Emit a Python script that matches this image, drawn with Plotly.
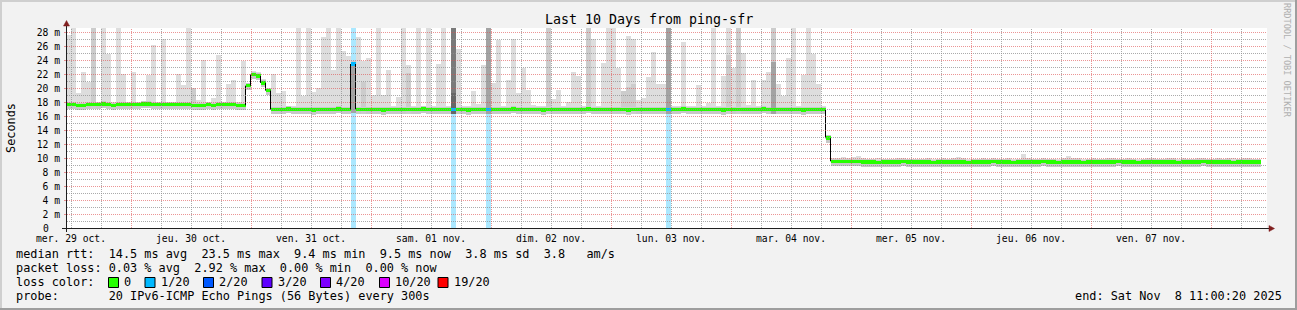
import plotly.graph_objects as go

# ---------------- data (hourly bins, bin k covers hour k .. k+1 of the 10 days) ----------------
MEDIAN_MS = [
    17.7, 17.7, 17.6, 17.6, 17.7, 17.7, 17.7, 17.8, 17.7, 17.6,
    17.7, 17.7, 17.7, 17.7, 17.7, 17.8, 17.8, 17.7, 17.7, 17.7,
    17.7, 17.7, 17.7, 17.7, 17.7, 17.6, 17.6, 17.6, 17.7, 17.6,
    17.7, 17.7, 17.7, 17.7, 17.6, 17.6,
    20.4, 22.0, 21.8, 20.8, 19.7,
    17.0, 17.0, 17.0, 17.1, 17.0, 17.0, 17.0, 17.0, 16.9, 17.0,
    17.0, 17.0, 17.0, 17.1, 17.0, 17.0,
    23.5,
    17.0, 17.0, 17.0, 17.0, 17.0, 16.9, 17.0, 17.0, 17.0, 17.0,
    17.0, 17.0, 17.0, 17.1, 17.0, 17.0, 17.0, 17.0, 17.0, 17.0,
    17.0, 17.0, 16.9, 17.0, 17.0, 17.0, 17.0, 17.0, 17.0, 17.0,
    17.0, 17.1, 17.0, 17.0, 17.0, 17.0, 17.0, 16.9, 17.0, 17.0,
    17.0, 17.0, 17.0, 17.0, 17.0, 17.0, 17.1, 17.0, 17.0, 17.0,
    17.0, 17.0, 17.0, 17.0, 16.9, 17.0, 17.0, 17.0, 17.0, 17.0,
    17.0, 17.0, 17.0, 17.0, 17.0, 17.1, 17.0, 17.0, 17.0, 17.0,
    17.0, 17.0, 17.0, 16.9, 17.0, 17.0, 17.0, 17.0, 17.0, 17.0,
    17.0, 17.1, 17.0, 17.0, 17.0, 17.0, 17.0, 17.0, 17.0, 16.9,
    17.0, 17.0, 17.0, 17.0,
    12.9,
    9.6, 9.6, 9.6, 9.6, 9.6, 9.6,
    9.5, 9.5, 9.5, 9.4, 9.5, 9.5, 9.5, 9.5, 9.6, 9.5, 9.5, 9.5,
    9.5, 9.5, 9.4, 9.5, 9.5, 9.5, 9.5, 9.5, 9.5, 9.4,
    9.5, 9.5, 9.5, 9.5, 9.6, 9.5, 9.5, 9.5, 9.4, 9.5,
    9.5, 9.5, 9.5, 9.5, 9.6, 9.5, 9.5, 9.4, 9.5, 9.5,
    9.5, 9.5, 9.4, 9.5, 9.5, 9.5, 9.5, 9.5, 9.5, 9.6,
    9.5, 9.5, 9.5, 9.4, 9.5, 9.5, 9.5, 9.5, 9.5, 9.5,
    9.5, 9.4, 9.5, 9.5, 9.5, 9.5, 9.6, 9.5, 9.5, 9.5,
    9.5, 9.5, 9.4, 9.5, 9.5, 9.5, 9.5, 9.5,
]

SMOKE_TOP_MS = [
    27.7, 28.7, 19.4, 22.4, 20.9, 28.7, 18.1, 28.7, 25.0, 18.1,
    28.7, 22.1, 18.1, 22.3, 18.1, 18.1, 21.9, 26.2, 18.1, 27.1,
    18.1, 18.1, 22.1, 20.5, 28.7, 20.1, 18.4, 24.1, 18.1, 18.6,
    24.8, 18.1, 20.7, 21.2, 18.1, 24.0,
    20.8, 22.5, 22.3, 21.4, 20.0,
    22.1, 19.4, 19.6, 17.5, 17.5, 28.7, 18.9, 28.7, 19.5, 20.1,
    27.3, 28.7, 22.7, 28.7, 25.4, 24.7, 23.6, 27.3, 23.9, 24.3,
    19.1, 28.7, 19.1, 22.7, 17.5, 18.8, 28.7, 23.3, 17.5, 28.7,
    17.5, 28.7, 17.5, 23.5, 28.7, 17.5, 28.7, 25.7, 17.5, 17.5,
    19.7, 17.8, 23.3, 28.7, 20.8, 26.9, 17.5, 21.2, 27.1, 19.4,
    22.9, 19.8, 17.6, 17.5, 17.5, 28.7, 18.5, 19.8, 17.5, 18.1,
    22.3, 21.8, 17.5, 28.7, 27.1, 17.5, 23.7, 28.7, 28.7, 22.9,
    19.6, 27.5, 27.1, 18.4, 18.7, 21.7, 25.2, 20.7, 20.6, 28.7,
    17.5, 17.5, 26.6, 17.5, 17.5, 20.5, 17.5, 17.9, 28.7, 17.5,
    21.8, 28.7, 22.9, 28.7, 25.1, 17.6, 21.2, 17.5, 21.2, 22.4,
    28.7, 20.6, 18.9, 24.3, 28.7, 17.5, 21.9, 28.7, 25.0, 20.6, 17.5,
    13.4,
    10.1, 10.1, 10.2, 10.1, 10.2, 10.3,
    10.1, 10.0, 10.0, 10.1, 10.0, 10.0, 10.0, 10.1, 10.1, 10.0, 10.0, 10.0,
    10.0, 10.1, 10.0, 10.0, 10.1, 10.0, 10.1, 10.2, 10.1, 10.0,
    10.0, 10.0, 10.1, 10.0, 10.1, 10.0, 10.0, 10.1, 10.0, 10.0,
    10.7, 10.1, 10.0, 10.0, 10.1, 10.0, 10.0, 10.0, 10.1, 10.3,
    10.1, 10.1, 10.0, 10.0, 10.1, 10.0, 10.0, 10.1, 10.1, 10.0,
    10.0, 10.1, 10.0, 10.0, 10.0, 10.1, 10.1, 10.0, 10.0, 10.1,
    10.1, 10.0, 10.1, 10.0, 10.0, 10.1, 10.1, 10.0, 10.0, 10.1,
    10.0, 10.1, 10.1, 10.0, 10.1, 10.1, 10.0, 10.0,
]

MID_BINS = [5, 25, 59, 68, 96, 104, 111, 112, 113, 132, 134, 141]
MID_TOPS = [28.7, 20.1, 20.9, 22.2, 28.7, 28.7, 19.6, 20.2, 20.6, 24.8, 28.7, 28.7]

DARK_BINS = [57, 84, 120, 141]
DARK_LOWS = [16.5, 16.4, 16.4, 16.4]
DARK_TOPS = [23.3, 28.7, 28.7, 23.8]

DARKEST_BINS = [77]
DARKEST_LOWS = [16.4]
DARKEST_TOPS = [28.7]
DEEPEST_BINS = [77]
DEEPEST_LOWS = [16.4]
DEEPEST_TOPS = [19.3]

LOSS_BINS = [57, 77, 84, 120]          # bins with 1/20 packet loss

DAY_TICK_HOURS = [1, 25, 49, 73, 97, 121, 145, 169, 193, 217]
DAY_LABELS = ["mer. 29 oct.", "jeu. 30 oct.", "ven. 31 oct.", "sam. 01 nov.",
              "dim. 02 nov.", "lun. 03 nov.", "mar. 04 nov.", "mer. 05 nov.",
              "jeu. 06 nov.", "ven. 07 nov."]
Y_TICK_VALUES = [2, 4, 6, 8, 10, 12, 14, 16, 18, 20, 22, 24, 26, 28]
Y_TICK_LABELS = ["2 m", "4 m", "6 m", "8 m", "10 m", "12 m", "14 m",
                 "16 m", "18 m", "20 m", "22 m", "24 m", "26 m", "28 m"]
Y_ZERO_LABEL = "0\u00a0\u00a0"

RTT_STATS = ["14.5 ms avg", "23.5 ms max", "9.4 ms min", "9.5 ms now", "3.8 ms sd", "3.8   am/s"]
LOSS_STATS = ["0.03 % avg", "2.92 % max", "0.00 % min", "0.00 % now"]
LOSS_LEVELS = ["0", "1/20", "2/20", "3/20", "4/20", "10/20", "19/20"]
PROBE_TEXT = "20 IPv6-ICMP Echo Pings (56 Bytes) every 300s"
END_TEXT = "end: Sat Nov  8 11:00:20 2025"
TITLE = "Last 10 Days from ping-sfr"

# ---------------- style ----------------
FONT = "DejaVu Sans Mono"
LOSS_COLORS = ["#26ff00", "#00b8ff", "#0059ff", "#5e00ff", "#7e00ff", "#dd00ff", "#ff0000"]
LOSS_BG = "rgba(0,184,255,0.33)"
GRID = "rgba(143,143,143,0.75)"
MGRID = "rgba(222,79,79,0.6)"
AXIS = "#1f1f1f"
ARROW = "#801f1f"
W, H = 1297, 310
L, T, PW, PH = 67, 28, 1200, 200
PX_PER_MS = 7.0
X_RANGE = [0.2, 240.2]
Y_RANGE = [0.5 / PX_PER_MS, 0.5 / PX_PER_MS + PH / PX_PER_MS]
BELOW = 0.65      # smoke/core band below median
CORE_ABOVE = 0.4
BAND = 0.25       # half height of the loss-coloured median band
AXIS_FONT = 9.7
LEG = 11.85


def px(x):
    return (x - L) / PW


def py(y):
    return (T + PH - y) / PH


def nb(s):
    return s.replace(" ", "\u00a0")


N = len(MEDIAN_MS)
fig = go.Figure()


def add_bars(bins, lows, tops, color):
    fig.add_bar(x=[k + 0.5 for k in bins], base=lows,
                y=[t - b for t, b in zip(tops, lows)], width=1,
                marker=dict(color=color, line=dict(width=0)), hoverinfo="skip")


# loss background columns
add_bars(LOSS_BINS, [0] * len(LOSS_BINS), [Y_RANGE[1]] * len(LOSS_BINS), LOSS_BG)
# smoke
lows = [m - BELOW for m in MEDIAN_MS]
add_bars(range(N), lows, SMOKE_TOP_MS, "#dddddd")
add_bars(range(N), lows, [m + CORE_ABOVE for m in MEDIAN_MS], "#c8c8c8")
add_bars(MID_BINS, [MEDIAN_MS[k] - BELOW for k in MID_BINS], MID_TOPS, "#cccccc")
add_bars(DARK_BINS, DARK_LOWS, DARK_TOPS, "#a3a3a3")
add_bars(DARKEST_BINS, DARKEST_LOWS, DARKEST_TOPS, "#7a7a7a")
add_bars(DEEPEST_BINS, DEEPEST_LOWS, DEEPEST_TOPS, "#666666")
# median band coloured by loss
add_bars(range(N), [m - BAND for m in MEDIAN_MS], [m + BAND for m in MEDIAN_MS], LOSS_COLORS[0])
add_bars(LOSS_BINS, [MEDIAN_MS[k] - BAND for k in LOSS_BINS],
         [MEDIAN_MS[k] + BAND for k in LOSS_BINS], LOSS_COLORS[1])

# black median step connectors
sx, sy = [], []
for k in range(1, N):
    if abs(MEDIAN_MS[k] - MEDIAN_MS[k - 1]) > 0.6:
        sx += [k - 0.1, k - 0.1, None]
        sy += [MEDIAN_MS[k - 1], MEDIAN_MS[k], None]
fig.add_scatter(x=sx, y=sy, mode="lines", line=dict(color="#000000", width=1), hoverinfo="skip")


# grid drawn over the data (rrdtool style)
def grid_trace(xs, ys, color):
    fig.add_scatter(x=xs, y=ys, mode="lines", hoverinfo="skip",
                    line=dict(color=color, width=1, dash="1px,1px"))


hx_min, hy_min, hx_maj, hy_maj = [], [], [], []
for v in range(1, 29):
    if v % 2:
        hx_min += [X_RANGE[0], X_RANGE[1], None]; hy_min += [v, v, None]
    else:
        hx_maj += [X_RANGE[0], X_RANGE[1], None]; hy_maj += [v, v, None]
vx_min, vy_min, vx_maj, vy_maj = [], [], [], []
for h in range(1, 240, 6):
    if (h - 13) % 24 == 0:
        vx_maj += [h + 0.1, h + 0.1, None]; vy_maj += [Y_RANGE[0], Y_RANGE[1], None]
    else:
        vx_min += [h + 0.1, h + 0.1, None]; vy_min += [Y_RANGE[0], Y_RANGE[1], None]
grid_trace(hx_min, hy_min, GRID)
grid_trace(vx_min, vy_min, GRID)
grid_trace(hx_maj, hy_maj, MGRID)
grid_trace(vx_maj, vy_maj, MGRID)

shapes = []
# frame shading
shapes.append(dict(type="rect", xref="paper", yref="paper", x0=px(0), x1=px(W), y0=py(0), y1=py(2),
                   fillcolor="#cfcfcf", line=dict(width=0), layer="below"))
shapes.append(dict(type="rect", xref="paper", yref="paper", x0=px(0), x1=px(2), y0=py(0), y1=py(H),
                   fillcolor="#cfcfcf", line=dict(width=0), layer="below"))
shapes.append(dict(type="rect", xref="paper", yref="paper", x0=px(0), x1=px(W), y0=py(H - 2), y1=py(H),
                   fillcolor="#9e9e9e", line=dict(width=0), layer="below"))
shapes.append(dict(type="rect", xref="paper", yref="paper", x0=px(W - 2), x1=px(W), y0=py(0), y1=py(H),
                   fillcolor="#9e9e9e", line=dict(width=0), layer="below"))
# axes
shapes.append(dict(type="line", xref="paper", yref="paper", x0=px(62), x1=px(1270), y0=py(228.5), y1=py(228.5),
                   line=dict(color=AXIS, width=1)))
shapes.append(dict(type="line", xref="paper", yref="paper", x0=px(66.5), x1=px(66.5), y0=py(232), y1=py(24),
                   line=dict(color=AXIS, width=1)))
shapes.append(dict(type="path", xref="paper", yref="paper",
                   path=f"M{px(1269)},{py(225.5)} L{px(1274.5)},{py(228.5)} L{px(1269)},{py(231.5)} Z",
                   fillcolor=ARROW, line=dict(color=ARROW, width=0.5)))
shapes.append(dict(type="path", xref="paper", yref="paper",
                   path=f"M{px(63.5)},{py(26)} L{px(66.5)},{py(20.5)} L{px(69.5)},{py(26)} Z",
                   fillcolor=ARROW, line=dict(color=ARROW, width=0.5)))

annotations = []


def ann(text, x, y, size, xanchor="left", color="#000000", angle=0):
    annotations.append(dict(text=nb(text), x=px(x), y=py(y), xref="paper", yref="paper",
                            showarrow=False, xanchor=xanchor, yanchor="middle", textangle=angle,
                            font=dict(family=FONT, size=size, color=color), borderpad=0, borderwidth=0))


ann(TITLE, 648.5, 19, 13.3, xanchor="center")
ann("Seconds", 11, 128, LEG, xanchor="center", angle=-90)
ann("RRDTOOL / TOBI OETIKER", 1287, 60, 8.6, xanchor="center", color="#b0b0b0", angle=90)
ann(Y_ZERO_LABEL, 60.5, 228.5, AXIS_FONT, xanchor="right")
ann("median rtt:  " + "  ".join(RTT_STATS), 16, 254, LEG)
ann("packet loss: " + "  ".join(LOSS_STATS), 16, 268, LEG)
ann("loss color:", 16, 282, LEG)
ann("probe:       " + PROBE_TEXT, 16, 296, LEG)
ann(END_TEXT, 1282, 296, LEG, xanchor="right")

box_x = [108.5, 145, 203.5, 262, 320.5, 379.5, 438]
for bx, lvl, col in zip(box_x, LOSS_LEVELS, LOSS_COLORS):
    shapes.append(dict(type="rect", xref="paper", yref="paper", x0=px(bx), x1=px(bx + 10),
                       y0=py(277.5), y1=py(287.5), fillcolor=col, line=dict(color="#000000", width=1)))
    ann(lvl, bx + 15.5, 282, LEG)

fig.update_layout(
    template="none",
    width=W, height=H,
    margin=dict(l=L, r=W - L - PW, t=T, b=H - T - PH, pad=0),
    paper_bgcolor="#f2f2f2", plot_bgcolor="#ffffff",
    showlegend=False, barmode="overlay", bargap=0,
    xaxis=dict(range=X_RANGE, showgrid=False, zeroline=False, showline=False, automargin=False,
               tickmode="array", tickvals=DAY_TICK_HOURS, ticktext=DAY_LABELS, ticks="",
               ticklabelstandoff=3,
               tickfont=dict(family=FONT, size=AXIS_FONT, color="#000000")),
    yaxis=dict(range=Y_RANGE, showgrid=False, zeroline=False, showline=False, automargin=False,
               tickmode="array", tickvals=Y_TICK_VALUES, ticktext=Y_TICK_LABELS,
               ticks="outside", ticklen=2, tickcolor=MGRID, ticklabelstandoff=2,
               tickfont=dict(family=FONT, size=AXIS_FONT, color="#000000")),
    shapes=shapes, annotations=annotations,
)

fig.write_html("out.html")
